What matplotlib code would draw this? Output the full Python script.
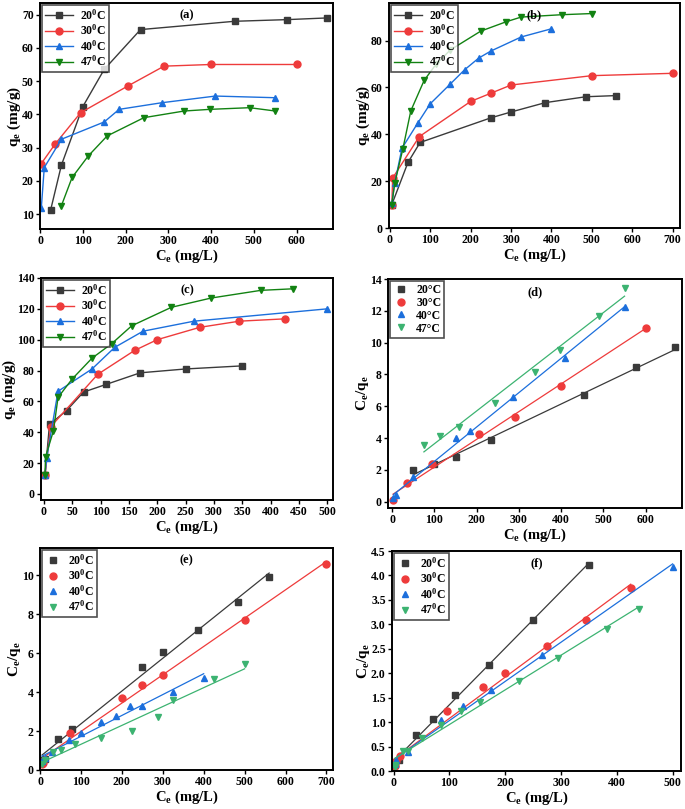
import numpy as np
import matplotlib
matplotlib.use('Agg')
import matplotlib.pyplot as plt

plt.rcParams['font.family'] = ['Liberation Serif', 'DejaVu Serif']
plt.rcParams['font.weight'] = 'bold'
plt.rcParams['axes.labelweight'] = 'bold'
plt.rcParams['mathtext.fontset'] = 'custom'
plt.rcParams['mathtext.rm'] = 'Liberation Serif:bold'
plt.rcParams['mathtext.it'] = 'Liberation Serif:bold'
plt.rcParams['mathtext.bf'] = 'Liberation Serif:bold'

temps = ['20', '30', '40', '47']

# ---- panel (a) qe vs Ce
a_x = [[25, 50, 100, 150, 235, 455, 578, 670],
       [2, 35, 95, 205, 290, 400, 600],
       [3, 10, 50, 150, 185, 285, 410, 550],
       [50, 75, 113, 157, 243, 337, 397, 490, 550]]
a_y = [[11.3, 24.7, 42.3, 53.5, 65.5, 68, 68.5, 69],
       [25, 31, 40.5, 48.5, 54.5, 55, 55],
       [11.8, 24, 32.5, 37.7, 41.5, 43.5, 45.5, 45],
       [12.5, 21, 27.5, 33.5, 39, 41, 41.5, 42, 41]]

# ---- panel (b)
b_x = [[5, 45, 75, 250, 300, 385, 485, 560],
       [5, 7, 73, 200, 250, 300, 500, 700],
       [5, 12, 30, 70, 100, 150, 185, 220, 250, 325, 400],
       [5, 12, 32, 52, 85, 115, 150, 225, 288, 325, 425, 500]]
b_y = [[10, 28, 36.5, 47, 49.5, 53.5, 56, 56.5],
       [9.8, 21.3, 39, 54, 57.5, 61, 65, 66],
       [10.5, 19, 34, 45, 53, 61.5, 67.5, 72.5, 75.5, 81.5, 85],
       [10, 19, 33.5, 50, 63, 70, 76, 84, 88, 90, 91, 91.5]]

# ---- panel (c)
c_x = [[2, 10, 40, 70, 110, 170, 250, 350],
       [2, 12, 95, 160, 200, 275, 345, 425],
       [2, 5, 25, 85, 125, 175, 265, 500],
       [2, 3, 17, 25, 50, 85, 120, 155, 225, 295, 383, 440]]
c_y = [[12, 45, 54, 66, 71, 78.5, 81, 83],
       [12, 43.5, 77.5, 93, 100, 108, 112, 113.5],
       [12, 23, 66.5, 81, 95, 105.5, 112, 120],
       [12, 24, 41, 62.5, 74.5, 88, 97.5, 109, 121, 127, 132, 133]]

# ---- panel (d) Ce/qe vs Ce
d_x = [[50, 100, 150, 235, 455, 578, 670],
       [2, 35, 95, 205, 290, 400, 600],
       [3, 10, 50, 150, 185, 285, 410, 550],
       [75, 113, 157, 243, 337, 397, 490, 550]]
d_y = [[2.0, 2.35, 2.8, 3.85, 6.7, 8.45, 9.7],
       [0.1, 1.15, 2.35, 4.25, 5.35, 7.3, 10.9],
       [0.25, 0.4, 1.55, 4.0, 4.45, 6.55, 9.05, 12.25],
       [3.55, 4.1, 4.7, 6.2, 8.15, 9.55, 11.65, 13.45]]

# ---- panel (e)
e_x = [[5, 12, 45, 77, 250, 300, 385, 485, 560],
       [5, 7, 73, 200, 250, 300, 500, 700],
       [5, 12, 30, 70, 100, 150, 185, 220, 250, 325, 400],
       [5, 12, 32, 52, 85, 150, 225, 288, 325, 425, 500]]
e_y = [[0.5, 0.55, 1.6, 2.1, 5.3, 6.05, 7.2, 8.65, 9.9],
       [0.3, 0.35, 1.9, 3.7, 4.35, 4.9, 7.7, 10.6],
       [0.45, 0.6, 0.9, 1.55, 1.9, 2.45, 2.75, 3.3, 3.3, 4.0, 4.75],
       [0.3, 0.5, 0.95, 1.05, 1.35, 1.65, 2.0, 2.7, 3.6, 4.65, 5.45]]

# ---- panel (f)
f_x = [[2, 10, 40, 70, 110, 170, 250, 350],
       [2, 5, 12, 95, 160, 200, 275, 345, 425],
       [2, 5, 25, 85, 125, 175, 265, 500],
       [2, 3, 17, 25, 50, 85, 120, 155, 225, 295, 383, 440]]
f_y = [[0.15, 0.22, 0.74, 1.06, 1.55, 2.16, 3.09, 4.22],
       [0.1, 0.2, 0.3, 1.22, 1.72, 2.0, 2.55, 3.08, 3.75],
       [0.15, 0.22, 0.38, 1.05, 1.32, 1.65, 2.37, 4.18],
       [0.08, 0.12, 0.41, 0.4, 0.67, 0.95, 1.23, 1.42, 1.85, 2.32, 2.9, 3.32]]

markers = ['s', 'o', '^', 'v']
cols_curve = ['#3a3a3a', '#ee3b3b', '#1c6fdc', '#128212']
cols_lin = ['#3a3a3a', '#ee3b3b', '#1c6fdc', '#3cb371']

W, H = 685, 809
fig = plt.figure(figsize=(W / 100, H / 100), dpi=100)


def box(l, t, r, b):
    return [l / W, 1 - b / H, (r - l) / W, (b - t) / H]


def style(ax, ylabel, tag):
    for s in ax.spines.values():
        s.set_linewidth(1.4)
    ax.tick_params(direction='out', length=3, width=1, labelsize=8.5, pad=1.5)
    for lab in ax.get_xticklabels() + ax.get_yticklabels():
        lab.set_fontweight('bold')
    ax.set_xlabel(r'C$_{e}$ (mg/L)', fontsize=10.5, fontweight='bold', labelpad=0.5)
    ax.set_ylabel(ylabel, fontsize=11, fontweight='bold', labelpad=-1)
    ax.text(0.5, 0.97, tag, transform=ax.transAxes, ha='center', va='top',
            fontsize=9, fontweight='bold')


def make_legend(ax, hl):
    leg = ax.legend(loc='upper left', prop={'size': 8.5, 'weight': 'bold'},
                    frameon=True, fancybox=False,
                    borderaxespad=0.15, handlelength=hl, labelspacing=0.08,
                    borderpad=0.25, handletextpad=0.6)
    leg.get_frame().set_edgecolor('#222222')
    leg.get_frame().set_linewidth(1.2)


def curve_panel(pos, xs, ys, tag, xlim, ylim, xt, yt):
    ax = fig.add_axes(box(*pos))
    for i in range(4):
        ax.plot(xs[i], ys[i], '-', color=cols_curve[i], lw=1,
                marker=markers[i], ms=5, label=r'%s$^{0}$C' % temps[i])
    ax.set_xlim(*xlim)
    ax.set_ylim(*ylim)
    ax.set_xticks(xt)
    ax.set_yticks(yt)
    style(ax, r'q$_{e}$ (mg/g)', tag)
    make_legend(ax, 2.4)
    return ax


def linear_panel(pos, xs, ys, tag, xlim, ylim, xt, yt, labels):
    ax = fig.add_axes(box(*pos))
    for i in range(4):
        x = np.array(xs[i], dtype=float)
        y = np.array(ys[i], dtype=float)
        k, c = np.polyfit(x, y, 1)
        xx = np.array([x.min(), x.max()])
        ax.plot(xx, k * xx + c, '-', color=cols_lin[i], lw=0.9)
        ax.plot(x, y, ls='none', color=cols_lin[i], marker=markers[i], ms=5,
                label=labels[i])
    ax.set_xlim(*xlim)
    ax.set_ylim(*ylim)
    ax.set_xticks(xt)
    ax.set_yticks(yt)
    style(ax, r'C$_{e}$/q$_{e}$', tag)
    make_legend(ax, 1.4)
    return ax


curve_panel((40, 3, 333, 229), a_x, a_y, '(a)', (0, 685), (5.5, 73.5),
            range(0, 700, 100), range(10, 80, 10))
curve_panel((389, 3, 680, 228), b_x, b_y, '(b)', (-2, 718), (0, 96),
            range(0, 800, 100), range(0, 100, 20))
curve_panel((41, 278, 333, 500), c_x, c_y, '(c)', (-5, 510), (-4, 140),
            range(0, 550, 50), range(0, 160, 20))

lab_deg = ['%s°C' % t for t in temps]
lab_sup = [r'%s$^{0}$C' % t for t in temps]
linear_panel((388, 279, 682, 508), d_x, d_y, '(d)', (-10, 686), (-0.4, 14),
             range(0, 700, 100), range(0, 16, 2), lab_deg)
linear_panel((40, 548, 333, 770), e_x, e_y, '(e)', (0, 716), (0, 11.4),
             range(0, 800, 100), range(0, 12, 2), lab_sup)
linear_panel((392, 551, 681, 771), f_x, f_y, '(f)', (-3, 515), (0, 4.5),
             range(0, 600, 100), np.arange(0, 4.6, 0.5), lab_sup)

fig.savefig('out.png', dpi=100)
